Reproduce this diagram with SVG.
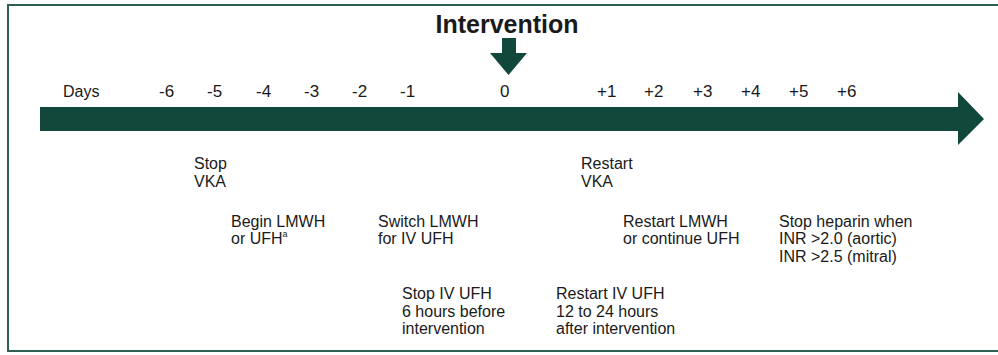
<svg xmlns="http://www.w3.org/2000/svg" width="998" height="355" viewBox="0 0 998 355">
<style>
.t{font-family:"Liberation Sans",Arial,sans-serif;font-size:16px;fill:#1a1a1a}
.d{font-family:"Liberation Sans",Arial,sans-serif;font-size:17px;fill:#1a1a1a}
.title{font-family:"Liberation Sans",Arial,sans-serif;font-size:25px;font-weight:bold;fill:#1a1a1a}
.g{fill:#12473b}
</style>
<rect x="8" y="5" width="1000" height="346" fill="#ffffff" stroke="#2d5f52" stroke-width="2"/>
<g id="title">
<text class="title" x="507" y="33" text-anchor="middle">Intervention</text>
<polygon class="g" points="502,38 516,38 516,53 527,53 508.5,75 490,53 502,53"/>
</g>
<g id="timeline">
<polygon class="g" points="40,107 958,107 958,92 984,119 958,145 958,131 40,131"/>
</g>
<g id="days">
<text class="t" x="63" y="97">Days</text>
<text class="d" x="159" y="97">-6</text>
<text class="d" x="207" y="97">-5</text>
<text class="d" x="256" y="97">-4</text>
<text class="d" x="304" y="97">-3</text>
<text class="d" x="352" y="97">-2</text>
<text class="d" x="400" y="97">-1</text>
<text class="d" x="500" y="97">0</text>
<text class="d" x="597" y="97">+1</text>
<text class="d" x="644" y="97">+2</text>
<text class="d" x="693" y="97">+3</text>
<text class="d" x="741" y="97">+4</text>
<text class="d" x="789" y="97">+5</text>
<text class="d" x="837" y="97">+6</text>
</g>
<g id="stop-vka">
<text class="t" x="194" y="169">Stop</text>
<text class="t" x="194" y="187">VKA</text>
</g>
<g id="begin-lmwh">
<text class="t" x="231" y="227">Begin LMWH</text>
<text class="t" x="231" y="244">or UFH<tspan font-size="9" dy="-7">a</tspan></text>
</g>
<g id="switch-lmwh">
<text class="t" x="378" y="227">Switch LMWH</text>
<text class="t" x="378" y="244">for IV UFH</text>
</g>
<g id="stop-iv-ufh">
<text class="t" x="402" y="299">Stop IV UFH</text>
<text class="t" x="402" y="317">6 hours before</text>
<text class="t" x="402" y="334">intervention</text>
</g>
<g id="restart-vka">
<text class="t" x="581" y="169">Restart</text>
<text class="t" x="581" y="187">VKA</text>
</g>
<g id="restart-lmwh">
<text class="t" x="623" y="227">Restart LMWH</text>
<text class="t" x="623" y="244">or continue UFH</text>
</g>
<g id="stop-heparin">
<text class="t" x="779" y="227">Stop heparin when</text>
<text class="t" x="779" y="244">INR &gt;2.0 (aortic)</text>
<text class="t" x="779" y="262">INR &gt;2.5 (mitral)</text>
</g>
<g id="restart-iv-ufh">
<text class="t" x="556" y="299">Restart IV UFH</text>
<text class="t" x="556" y="317">12 to 24 hours</text>
<text class="t" x="556" y="334">after intervention</text>
</g>
<g id="connectors"></g>
</svg>
